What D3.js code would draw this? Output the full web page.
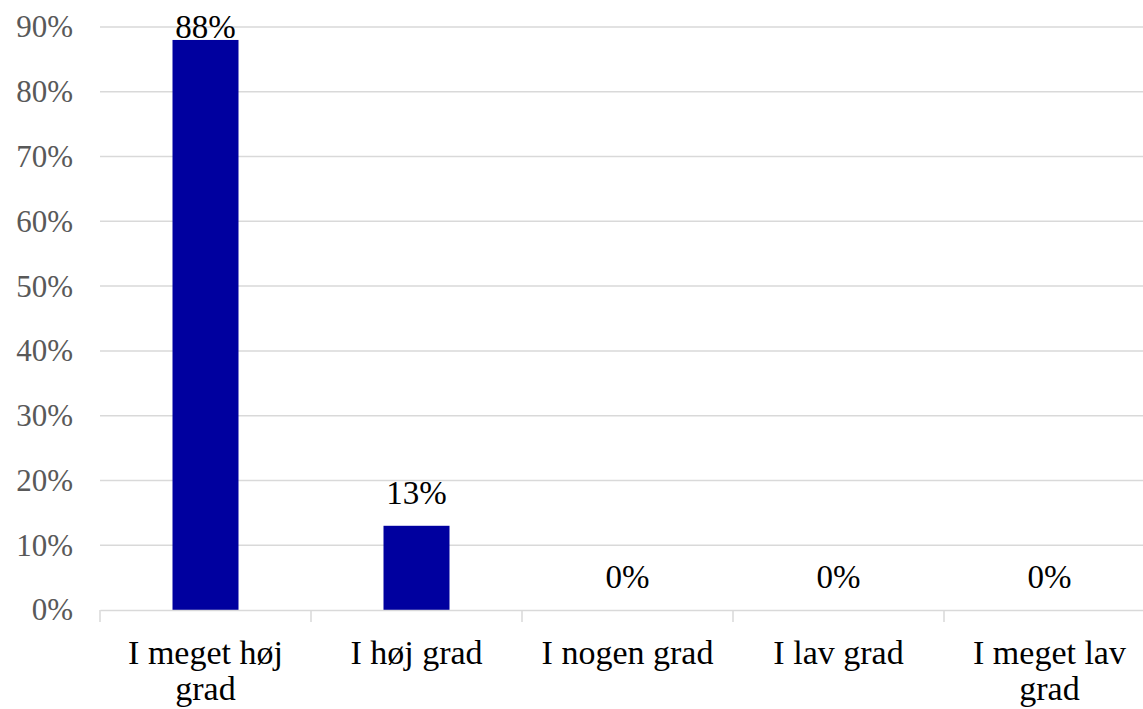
<!DOCTYPE html>
<html><head><meta charset="utf-8">
<script src="https://cdn.jsdelivr.net/npm/d3@7/dist/d3.min.js"></script>
<style>
html,body{margin:0;padding:0;background:#fff;overflow:hidden;}
svg{display:block;}
</style></head>
<body>
<svg id="c" width="1143" height="709"></svg>
<script>
const categories = [["I meget høj","grad"],["I høj grad"],["I nogen grad"],["I lav grad"],["I meget lav","grad"]];
const values = [88, 13, 0, 0, 0];
const yTicks = [0,10,20,30,40,50,60,70,80,90];

const svg = d3.select("#c");
const mLeft = 100, mRight = 1155, mTop = 27, mBottom = 610;
const x = d3.scaleBand().domain(d3.range(categories.length)).range([mLeft, mRight]).paddingInner(0).paddingOuter(0);
const y = d3.scaleLinear().domain([0, 90]).range([mBottom, mTop]);
const font = "'Liberation Serif','Times New Roman',serif";

// gridlines
svg.append("g").selectAll("line").data(yTicks.filter(d=>d>0)).join("line")
  .attr("x1", mLeft).attr("x2", mRight)
  .attr("y1", d=>y(d)).attr("y2", d=>y(d))
  .attr("stroke", "#d9d9d9").attr("stroke-width", 1.5);

// y axis labels
const yAxis = d3.axisLeft(y).tickValues(yTicks).tickFormat(d=>d+"%").tickSize(0).tickPadding(27);
const ya = svg.append("g").attr("transform", `translate(${mLeft},0)`).call(yAxis);
ya.select(".domain").remove();
ya.selectAll("text").attr("font-family", font).attr("font-size", 31).attr("fill", "#595959");

// bars
const bw = 66;
svg.append("g").selectAll("rect").data(values).join("rect")
  .attr("x", (d,i)=>x(i) + x.bandwidth()/2 - bw/2)
  .attr("width", bw)
  .attr("y", d=>y(d))
  .attr("height", d=>y(0)-y(d))
  .attr("fill", "#00009f");

// x axis
const xAxis = d3.axisBottom(x).tickSize(0).tickFormat("");
const xa = svg.append("g").attr("transform", `translate(0,${mBottom})`).call(xAxis);
xa.select(".domain").attr("stroke", "#d9d9d9").attr("stroke-width", 1.5);
// boundary ticks
svg.append("g").selectAll("line").data(d3.range(categories.length+1)).join("line")
  .attr("x1", i=> i<categories.length ? x(i) : mRight).attr("x2", i=> i<categories.length ? x(i) : mRight)
  .attr("y1", mBottom).attr("y2", mBottom+12)
  .attr("stroke", "#d9d9d9").attr("stroke-width", 1.5);

// category labels
const cl = svg.append("g").selectAll("text").data(categories).join("text")
  .attr("font-family", font).attr("font-size", 34).attr("fill", "#000")
  .attr("text-anchor", "middle")
  .attr("x", (d,i)=>x(i)+x.bandwidth()/2)
  .attr("y", 664);
cl.selectAll("tspan").data(d=>d).join("tspan")
  .attr("x", function(){ return d3.select(this.parentNode).attr("x"); })
  .attr("dy", (d,i)=> i===0 ? 0 : 36)
  .text(d=>d);

// data labels
svg.append("g").selectAll("text").data(values).join("text")
  .attr("font-family", font).attr("font-size", 33).attr("fill", "#000")
  .attr("text-anchor", "middle")
  .attr("x", (d,i)=>x(i)+x.bandwidth()/2)
  .attr("y", d=>Math.max(y(d)-22, y(90)+11))
  .text(d=>d+"%");
</script>
</body></html>
